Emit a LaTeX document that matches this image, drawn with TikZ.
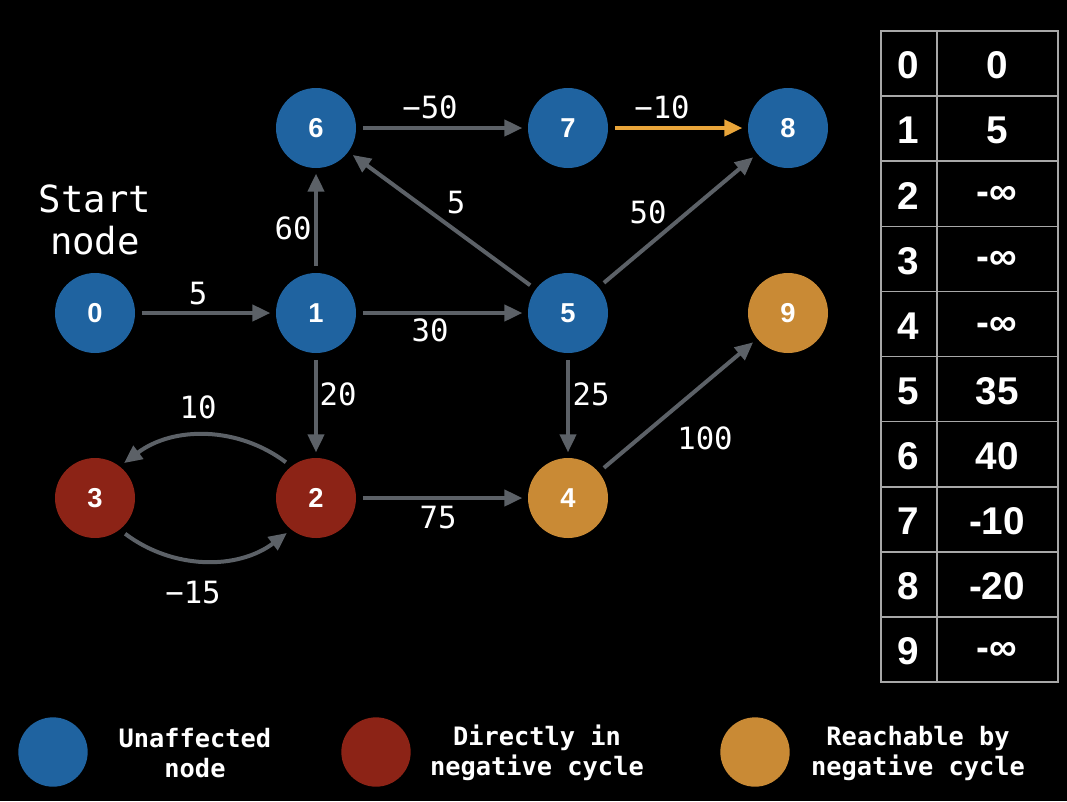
\documentclass[tikz,border=0pt]{standalone}
\usepackage{fontspec}
\setmainfont{Liberation Sans}
\newfontfamily\monof{DejaVu Sans Mono}
\usetikzlibrary{arrows.meta}
\definecolor{nblue}{HTML}{1F63A0}
\definecolor{nred}{HTML}{8C2316}
\definecolor{norange}{HTML}{C98A35}
\definecolor{agrey}{HTML}{5C6167}
\definecolor{aorange}{HTML}{E9A53A}
\definecolor{tgrey}{HTML}{A8A8A8}
\tikzset{
  vtx/.style={circle, minimum size=60pt, inner sep=0pt, text=white, font=\fontsize{20.5}{24}\selectfont\bfseries},
  bluev/.style={vtx, fill=nblue},
  redv/.style={vtx, fill=nred},
  orangev/.style={vtx, fill=norange},
  conn/.style={draw=agrey, line width=3pt, -{Triangle[length=13.5pt,width=12pt]}, shorten <=5pt, shorten >=4pt},
  hot/.style={conn, draw=aorange},
  wlabel/.style={text=white, inner sep=0pt, font=\monof\fontsize{23}{26}\selectfont},
  tcell/.style={text=white, inner sep=0pt, font=\bfseries\fontsize{29}{32}\selectfont},
  legdot/.style={circle, minimum size=52pt, inner sep=0pt},
  legtext/.style={text=white, align=center, inner sep=0pt, font=\monof\bfseries\fontsize{19}{22.5}\selectfont},
}
\begin{document}
\begin{tikzpicture}[x=0.75pt, y=-0.75pt]
\fill[black] (0,0) rectangle (1067,801);
\useasboundingbox (0,0) rectangle (1067,801);

% vertices
\node[bluev] (n0) at (95,313) {0};
\node[bluev] (n1) at (316,313) {1};
\node[bluev] (n5) at (568,313) {5};
\node[orangev] (n9) at (788,313) {9};
\node[bluev] (n6) at (316,128) {6};
\node[bluev] (n7) at (568,128) {7};
\node[bluev] (n8) at (788,128) {8};
\node[redv] (n3) at (95,498) {3};
\node[redv] (n2) at (316,498) {2};
\node[orangev] (n4) at (568,498) {4};

\node[text=white, align=center, inner sep=0pt, font=\monof\fontsize{28}{32}\selectfont] (start) at (95,220) {Start\\node};

% connectors
\draw[conn] (n0) -- (n1);
\draw[conn] (n1) -- (n6);
\draw[conn] (n1) -- (n5);
\draw[conn] (n1) -- (n2);
\draw[conn] (n6) -- (n7);
\draw[hot] (n7) -- (n8);
\draw[conn] (n5) -- (n6);
\draw[conn] (n5) -- (n8);
\draw[conn] (n5) -- (n4);
\draw[conn] (n4) -- (n9);
\draw[conn] (n2) -- (n4);
\draw[conn] (n2.128) to[bend right=37] (n3.52);
\draw[conn] (n3.-52) to[bend right=37] (n2.-128);

% labels
\node[wlabel] (l01) at (198,294) {5};
\node[wlabel] (l16) at (293,228) {60};
\node[wlabel] (l67) at (430,107) {−50};
\node[wlabel] (l78) at (662,107) {−10};
\node[wlabel] (l56) at (456,203) {5};
\node[wlabel] (l58) at (648,212) {50};
\node[wlabel] (l15) at (430,330) {30};
\node[wlabel] (l12) at (338,394) {20};
\node[wlabel] (l54) at (591,394) {25};
\node[wlabel] (l49) at (705,438) {100};
\node[wlabel] (l23) at (198,407) {10};
\node[wlabel] (l24) at (438,518) {75};
\node[wlabel] (l32) at (193,593) {−15};

% table
\draw[tgrey, line width=1.2pt] (881,31) rectangle (1058,682);
\draw[tgrey, line width=1.2pt] (937,31) -- (937,682);
\foreach \i in {1,...,9} {
  \draw[tgrey, line width=1.2pt] (881,{31+65.1*\i}) -- (1058,{31+65.1*\i});
}
\foreach \k/\v in {0/0,1/5,2/-∞,3/-∞,4/-∞,5/35,6/40,7/-10,8/-20,9/-∞} {
  \node[tcell] (tk\k) at (908,{65.5+65.1*\k}) {\k};
  \node[tcell] (tv\k) at (997,{65.5+65.1*\k}) {\v};
}

% legend
\node[legdot, fill=nblue] (d1) at (53,752) {};
\node[legdot, fill=nred] (d2) at (376,752) {};
\node[legdot, fill=norange] (d3) at (755,752) {};
\node[legtext] (t1) at (195,753) {Unaffected\\node};
\node[legtext] (t2) at (537,753) {Directly in\\negative cycle};
\node[legtext] (t3) at (918,753) {Reachable by\\negative cycle};
\end{tikzpicture}
\end{document}
